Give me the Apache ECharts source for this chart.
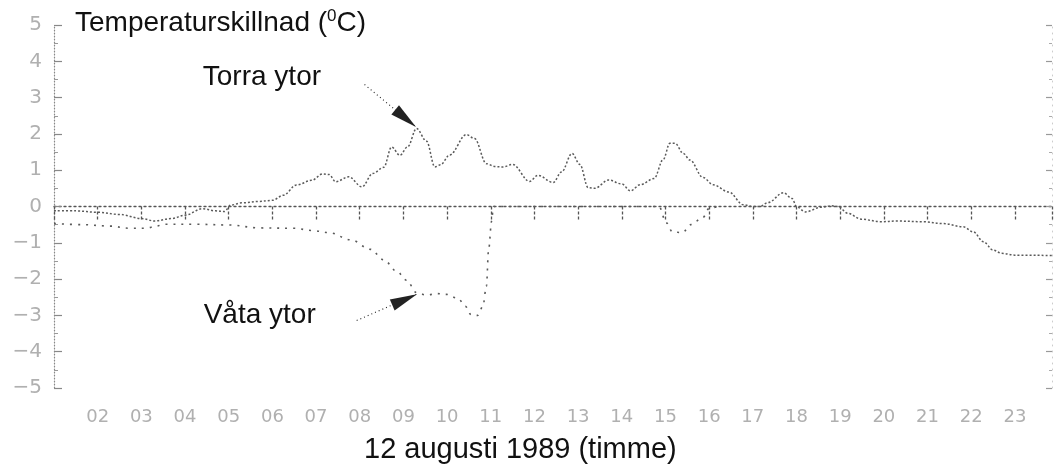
<!DOCTYPE html>
<html>
<head>
<meta charset="utf-8">
<script src="https://cdn.jsdelivr.net/npm/echarts@6/dist/echarts.min.js"></script>
<style>html,body{margin:0;padding:0;background:#fff}#c{width:1056px;height:473px}</style>
</head>
<body>
<div id="c"></div>
<script>
// x tick labels (hours) and y tick labels
const hourLabels = ['02','03','04','05','06','07','08','09','10','11','12','13','14','15','16','17','18','19','20','21','22','23'];
const yTickLabels = ['\u22125','\u22124','\u22123','\u22122','\u22121','0','1','2','3','4','5'];

// "Torra ytor" (dry surfaces) temperature difference, hour of day
const dryHours = [1.0,1.5,2.0,2.5,3.0,3.3,3.7,4.0,4.4,4.7,4.9,5.05,5.3,5.7,6.0,6.25,6.55,6.9,7.15,7.3,7.45,7.75,8.05,8.3,8.55,8.73,8.92,9.1,9.3,9.53,9.72,9.85,10.06,10.44,10.63,10.9,11.1,11.28,11.5,11.89,12.08,12.43,12.62,12.86,13.04,13.23,13.38,13.7,14.0,14.2,14.42,14.74,14.95,15.1,15.22,15.41,15.56,15.86,16.09,16.45,16.78,17.0,17.16,17.35,17.7,17.9,18.0,18.2,18.57,18.8,18.95,19.18,19.48,19.94,20.3,20.9,21.36,21.82,22.05,22.28,22.5,22.7,23.0,23.85];
const dryValues = [-0.12,-0.12,-0.16,-0.22,-0.33,-0.4,-0.33,-0.24,-0.06,-0.12,-0.14,0.04,0.1,0.14,0.17,0.31,0.59,0.72,0.9,0.88,0.68,0.82,0.54,0.91,1.08,1.64,1.41,1.65,2.15,1.8,1.09,1.15,1.42,1.98,1.87,1.18,1.1,1.09,1.16,0.69,0.86,0.66,0.95,1.46,1.16,0.52,0.5,0.73,0.62,0.43,0.6,0.77,1.3,1.74,1.74,1.46,1.28,0.8,0.6,0.4,0.05,0.0,0.0,0.11,0.38,0.22,0.0,-0.15,-0.02,0.02,0.0,-0.19,-0.35,-0.42,-0.4,-0.42,-0.47,-0.56,-0.7,-0.97,-1.2,-1.29,-1.34,-1.35];

// "Våta ytor" (wet surfaces) temperature difference, hour of day
const wetHours = [1.0,1.66,2.28,2.73,3.1,3.35,3.5,4.26,5.02,5.7,6.5,6.9,7.3,7.8,8.25,8.55,8.86,9.07,9.3,9.53,9.76,9.98,10.25,10.42,10.55,10.7,10.82,10.9,10.95,11.02,11.06,14.85,15.02,15.16,15.39,15.58,15.86,16.0,16.2];
const wetValues = [-0.47,-0.5,-0.54,-0.6,-0.6,-0.54,-0.49,-0.49,-0.51,-0.59,-0.6,-0.66,-0.72,-0.92,-1.18,-1.47,-1.8,-2.03,-2.37,-2.44,-2.4,-2.42,-2.53,-2.75,-2.98,-3.0,-2.75,-2.2,-1.2,-0.4,0,0,-0.45,-0.7,-0.72,-0.5,-0.3,-0.05,0];

const dryData = dryHours.map((h, i) => [h, dryValues[i]]);
const wetData = wetHours.map((h, i) => [h, wetValues[i]]);

const chart = echarts.init(document.getElementById('c'), null, {renderer: 'canvas'});
const labelFont = 'DejaVu Sans';
const textFont = 'Liberation Sans';

chart.setOption({
  animation: false,
  backgroundColor: '#ffffff',
  title: [
    {
      text: 'Temperaturskillnad ({sup|0}C)',
      left: 75, top: 8, padding: 0,
      textStyle: {
        fontFamily: textFont, fontSize: 28, fontWeight: 'normal', color: '#111',
        rich: { sup: { fontFamily: textFont, fontSize: 17, color: '#111', verticalAlign: 'top', padding: [0,0,14,0] } }
      }
    },
    {
      text: '12 augusti 1989 (timme)',
      left: 364, top: 435, padding: 0,
      textStyle: { fontFamily: textFont, fontSize: 29, fontWeight: 'normal', color: '#111' }
    }
  ],
  grid: { left: 54, right: 4, top: 25, bottom: 85, containLabel: false },
  xAxis: [
    {
      type: 'value', min: 1, max: 23.85, interval: 1,
      axisLine: { show: true, onZero: true, lineStyle: { color: '#555', width: 1.3, type: [2, 3] } },
      axisTick: { show: true, length: 15, lineStyle: { color: '#555', width: 1.3, type: [3, 2] } },
      axisLabel: { show: false },
      splitLine: { show: false }
    },
    {
      type: 'value', min: 1, max: 23.85, interval: 1, position: 'bottom',
      axisLine: { show: false, onZero: false },
      axisTick: { show: false },
      splitLine: { show: false },
      axisLabel: {
        show: true, margin: 20, showMaxLabel: false,
        fontFamily: labelFont, fontSize: 18, color: '#b0b0b0',
        formatter: function (v) { const i = Math.round(v) - 2; return (i >= 0 && i < hourLabels.length) ? hourLabels[i] : ''; }
      }
    }
  ],
  yAxis: [
    {
      type: 'value', min: -5, max: 5, interval: 1, position: 'left',
      axisLine: { show: true, onZero: false, lineStyle: { color: '#888', width: 1.2, type: [1, 2] } },
      axisTick: { show: true, inside: true, length: 8, lineStyle: { color: '#888', width: 1.2 } },
      minorTick: { show: true, splitNumber: 2, length: 4, lineStyle: { color: '#999' } },
      splitLine: { show: false },
      axisLabel: {
        margin: 12, fontFamily: labelFont, fontSize: 20, color: '#b0b0b0',
        formatter: function (v) { return yTickLabels[Math.round(v) + 5]; }
      }
    },
    {
      type: 'value', min: -5, max: 5, interval: 1, position: 'right',
      axisLine: { show: true, onZero: false, lineStyle: { color: '#ccc', width: 1, type: [1, 5] } },
      axisTick: { show: true, inside: true, length: 6, lineStyle: { color: '#999', width: 1.2 } },
      minorTick: { show: true, splitNumber: 2, length: 3, lineStyle: { color: '#aaa' } },
      splitLine: { show: false },
      axisLabel: { show: false }
    }
  ],
  series: [
    {
      name: 'Torra ytor', type: 'line', xAxisIndex: 0, yAxisIndex: 0,
      data: dryData, showSymbol: false, smooth: 0.35, smoothMonotone: 'x',
      lineStyle: { color: '#5a5a5a', width: 1.5, type: [2, 2] },
      markLine: {
        silent: true, symbol: ['none', 'triangle'], symbolSize: [12, 27],
        symbolOffset: [[0, 0], [0, 13]],
        label: { show: false },
        lineStyle: { color: '#222', width: 1.1, type: [1, 3] },
        emphasis: { disabled: true },
        data: [
          [{ coord: [8.11, 3.36], symbol: 'none' }, { coord: [9.28, 2.2], symbol: 'triangle' }],
          [{ coord: [7.93, -3.14], symbol: 'none' }, { coord: [9.3, -2.42], symbol: 'triangle' }]
        ]
      },
      markPoint: {
        silent: true, symbol: 'circle', symbolSize: 0,
        label: { show: true, position: 'inside', fontFamily: textFont, fontSize: 28, color: '#111', align: 'center', verticalAlign: 'middle' },
        data: [
          { coord: [5.76, 3.57], value: 'Torra ytor', label: { formatter: 'Torra ytor' } },
          { coord: [5.71, -2.99], value: 'Våta ytor', label: { formatter: 'Våta ytor' } }
        ]
      }
    },
    {
      name: 'Våta ytor', type: 'line', xAxisIndex: 0, yAxisIndex: 0,
      data: wetData, showSymbol: false, smooth: 0.35, smoothMonotone: 'x',
      lineStyle: { color: '#5a5a5a', width: 1.6, type: [2, 6] }
    }
  ]
});
</script>
</body>
</html>
